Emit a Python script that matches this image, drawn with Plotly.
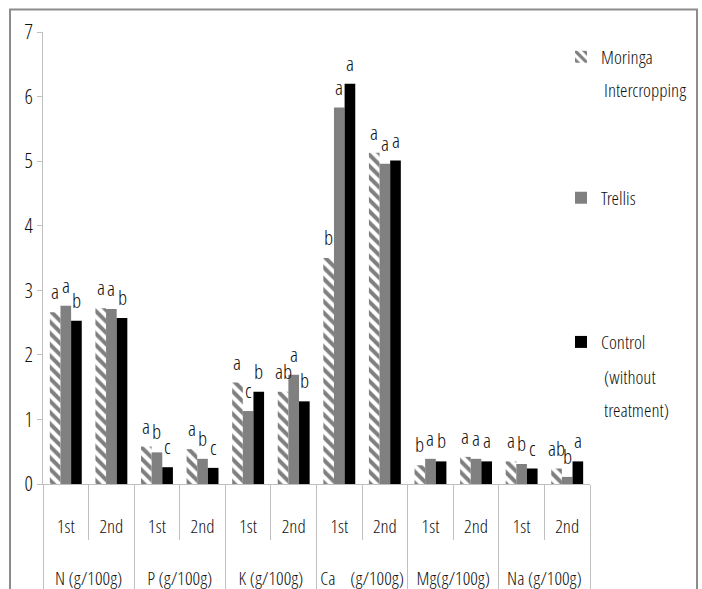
import plotly.graph_objects as go

# Nutrient groups and seasons
nutrients = ["N (g/100g)", "P (g/100g)", "K (g/100g)",
             "Ca\u00a0\u00a0\u00a0(g/100g)", "Mg(g/100g)", "Na (g/100g)"]
seasons = ["1st", "2nd"]

# Mean contents per nutrient/season
moringa = [2.66, 2.72, 0.58, 0.54, 1.57, 1.43, 3.50, 5.13, 0.29, 0.42, 0.35, 0.24]
trellis = [2.76, 2.71, 0.49, 0.39, 1.13, 1.69, 5.83, 4.96, 0.39, 0.39, 0.31, 0.11]
control = [2.53, 2.57, 0.26, 0.25, 1.43, 1.28, 6.20, 5.01, 0.35, 0.35, 0.24, 0.35]

# Significance letters
moringa_sig = ["a", "a", "a", "a", "a", "ab", "b", "a", "b", "a", "a", "ab"]
trellis_sig = ["a", "a", "b", "b", "c", "a", "a", "a", "a", "a", "b", "b"]
control_sig = ["b", "b", "c", "c", "b", "b", "a", "a", "b", "a", "c", "a"]

# Empty lines around the season labels space the two label rows apart
outer = ["<br>" + n for n in nutrients for _ in seasons]
inner = ["<br>" + s + "<br> " for _ in nutrients for s in seasons]
x_cat = [outer, inner]

FONT = "Open Sans Condensed Light, DejaVu Sans Condensed, sans-serif"
TXT = "#111111"
GRID = "#bfbfbf"
FS = 19

fig = go.Figure()
fig.add_trace(go.Bar(
    x=x_cat, y=moringa, name="Moringa", legend="legend",
    marker=dict(color="white", line=dict(width=0),
                pattern=dict(shape="\\", fgcolor="black", bgcolor="white",
                             size=8, solidity=0.5)),
))
fig.add_trace(go.Bar(
    x=x_cat, y=trellis, name="Trellis", legend="legend2",
    marker=dict(color="#808080", line=dict(width=0)),
))
fig.add_trace(go.Bar(
    x=x_cat, y=control, name="Control", legend="legend3",
    marker=dict(color="black", line=dict(width=0)),
))

# Letters above each bar
bar_w = (1 - 0.3) / 3
annotations = []
for k, (vals, sig) in enumerate([(moringa, moringa_sig),
                                  (trellis, trellis_sig),
                                  (control, control_sig)]):
    for i, (v, s) in enumerate(zip(vals, sig)):
        annotations.append(dict(
            x=i + (k - 1) * bar_w, y=v, xref="x", yref="y",
            text=s, showarrow=False, yanchor="bottom", yshift=5,
            font=dict(family=FONT, size=21, color=TXT),
        ))

# Continuation lines of the legend labels
for txt, yy in [("Intercropping", 0.872), ("(without", 0.237), ("treatment)", 0.164)]:
    annotations.append(dict(
        x=1.022, y=yy, xref="paper", yref="paper", xanchor="left", yanchor="middle",
        text=txt, showarrow=False, font=dict(family=FONT, size=FS, color=TXT),
    ))

legend_common = dict(font=dict(family=FONT, size=FS, color=TXT),
                     bgcolor="rgba(0,0,0,0)", xanchor="left", yanchor="middle",
                     itemwidth=30, x=0.947)

fig.update_layout(
    width=702, height=589,
    margin=dict(l=43, r=112, t=32, b=105, autoexpand=False),
    paper_bgcolor="white", plot_bgcolor="white",
    barmode="group", bargap=0.3, bargroupgap=0,
    font=dict(family=FONT, size=FS, color=TXT),
    showlegend=True,
    legend=dict(y=0.945, **legend_common),
    legend2=dict(y=0.633, **legend_common),
    legend3=dict(y=0.314, **legend_common),
    annotations=annotations,
    xaxis=dict(
        type="multicategory", automargin=False, showgrid=False, showline=True,
        linecolor=GRID, linewidth=1, ticks="outside", ticklen=55, tickcolor=GRID,
        tickwidth=1, showdividers=True, dividercolor=GRID, dividerwidth=1,
        tickangle=0, tickfont=dict(family=FONT, size=FS, color=TXT),
    ),
    yaxis=dict(
        range=[0, 7], dtick=1, automargin=False, showgrid=False, zeroline=False,
        showline=True, linecolor=GRID, linewidth=1,
        ticks="outside", ticklen=5, tickcolor=GRID,
        tickfont=dict(family=FONT, size=21, color=TXT),
    ),
    shapes=[dict(type="rect", xref="paper", yref="paper",
                 x0=-0.0603, x1=1.1956, y0=-0.3, y1=1.0498,
                 line=dict(color="#8c8c8c", width=2), fillcolor="rgba(0,0,0,0)",
                 layer="below")],
)

fig.write_html("out.html")
